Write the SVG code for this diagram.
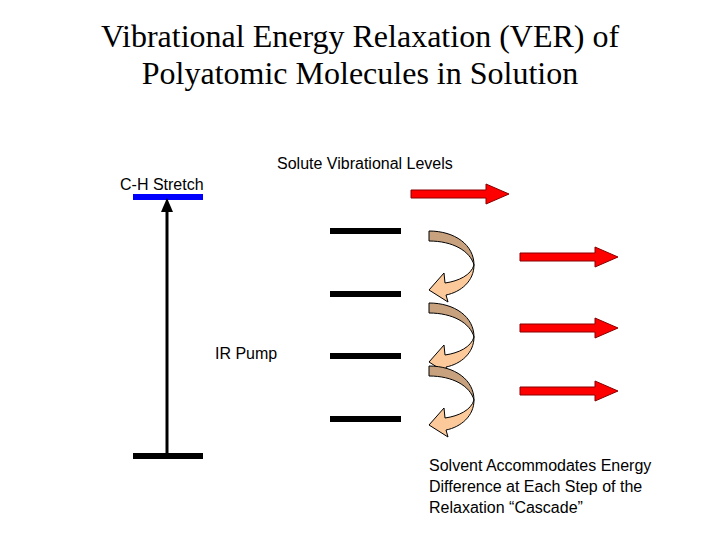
<svg xmlns="http://www.w3.org/2000/svg" width="720" height="540" viewBox="0 0 720 540">
<style>
.t{font-family:"Liberation Serif",serif;font-size:32px;text-anchor:middle}
.s{font-family:"Liberation Sans",sans-serif;font-size:16px}
.bar{stroke:#000;stroke-width:6}
.red{fill:#f00;stroke:#800;stroke-width:1}
.dk{fill:#c8a27f;stroke:#000;stroke-width:1}
.lt{fill:#fbc99a;stroke:#000;stroke-width:1}
</style>
<defs>
<g id="red"><polygon class="red" points="0,-4 75,-4 75,-10 98,0 75,10 75,4 0,4"/></g>
<g id="curl">
<path class="dk" d="M0,0 C26,0 45,14 45,34 C41,20 24,10 0,10 Z"/>
<path class="lt" d="M45,34 C45,50 32,61 17,64 L19,71 L0,59 L15,42 L16,52 C30,50 42,44 45,34 Z"/>
</g>
</defs>
<rect width="720" height="540" fill="#fff"/>
<text class="t" x="360" y="47">Vibrational Energy Relaxation (VER) of</text>
<text class="t" x="360" y="84">Polyatomic Molecules in Solution</text>
<text class="s" x="277" y="169">Solute Vibrational Levels</text>
<text class="s" x="120" y="190">C-H Stretch</text>
<text class="s" x="215" y="359">IR Pump</text>
<text class="s" x="429" y="471">Solvent Accommodates Energy</text>
<text class="s" x="429" y="492">Difference at Each Step of the</text>
<text class="s" x="429" y="513">Relaxation “Cascade”</text>
<g id="ch-level"><line x1="133" y1="197" x2="203" y2="197" stroke="#00f" stroke-width="6"/></g>
<g id="ground"><line class="bar" x1="133" y1="456" x2="203" y2="456"/></g>
<g id="levels">
<line class="bar" x1="330" y1="231" x2="401" y2="231"/>
<line class="bar" x1="330" y1="294" x2="401" y2="294"/>
<line class="bar" x1="330" y1="356" x2="401" y2="356"/>
<line class="bar" x1="330" y1="419" x2="401" y2="419"/>
</g>
<g id="connectors">
<line x1="167" y1="455" x2="167" y2="210" stroke="#000" stroke-width="3"/>
<polygon points="167,198 161,212 173,212" fill="#000"/>
<use href="#curl" x="429" y="231"/>
<use href="#curl" x="429" y="303"/>
<use href="#curl" x="429" y="366"/>
<use href="#red" x="411" y="194"/>
<use href="#red" x="520" y="257"/>
<use href="#red" x="520" y="328"/>
<use href="#red" x="520" y="391"/>
</g>
</svg>
